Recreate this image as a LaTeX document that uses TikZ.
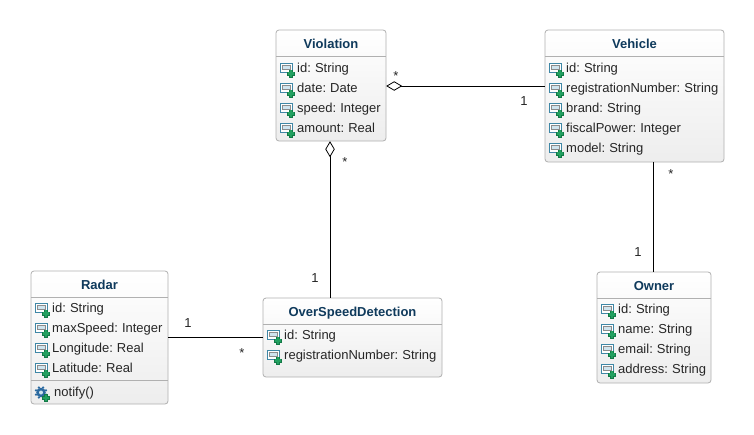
\documentclass[tikz,border=0pt]{standalone}
\usepackage{fontspec}
\setmainfont[WordSpace=0.8]{Liberation Sans}
\usetikzlibrary{arrows.meta}
\definecolor{titleblue}{HTML}{0F3A5C}
\definecolor{boxline}{HTML}{B0B0B0}
\definecolor{iconblue}{HTML}{3F87A6}
\definecolor{gearblue}{HTML}{2C6AA0}
\definecolor{iconfill}{HTML}{CFE4EE}
\definecolor{plusgreen}{HTML}{22A060}
\definecolor{plusdark}{HTML}{137A47}
\tikzset{
  classbox/.style={draw=boxline,line width=0.8pt,rounded corners=3pt,top color=white,bottom color=black!7,minimum width=#1,inner sep=0pt},
  titletext/.style={font=\fontsize{13}{15}\selectfont\bfseries,text=titleblue,inner sep=0pt,anchor=base},
  membertext/.style={font=\fontsize{13}{15}\selectfont,text=black!85,inner sep=0pt,anchor=base west},
  multtext/.style={font=\fontsize{13}{15}\selectfont,text=black!85,inner sep=0pt},
  sepline/.style={draw=boxline,line width=0.7pt},
  assoc/.style={draw=black,line width=0.8pt},
  aggr/.style={assoc,{Diamond[open,fill=white,length=16pt,width=9.5pt,line width=0.8pt]}-},
  plusmark/.pic={
    \fill[plusdark] (-2,-4) rectangle (2,4);
    \fill[plusdark] (-4,-2) rectangle (4,2);
    \fill[plusgreen] (-1.2,-3.2) rectangle (1.2,3.2);
    \fill[plusgreen] (-3.2,-1.2) rectangle (3.2,1.2);
  },
  attricon/.pic={
    \draw[iconblue,line width=1pt,fill=white] (-6,-4.5) rectangle (6,4.5);
    \draw[black!45,line width=0.6pt,fill=iconfill] (-3.8,-2.2) rectangle (3.8,1.8);
    \pic at (5,6) {plusmark};
  },
  opicon/.pic={
    \fill[gearblue] (0,-0.5) circle (4.8);
    \foreach \a in {0,45,...,315}{\fill[gearblue] ([shift={(0,-0.5)}]\a+22:5.4) circle (1.25);}
    \fill[iconfill] (0,-0.5) circle (2);
    \pic at (5,5) {plusmark};
  }
}
% box: name, left, top, right, bottom, header bottom, title
\newcommand{\umlbox}[7]{%
  \path[classbox=0pt] (#2,#3) rectangle (#4,#5);
  \node[minimum width=#4pt-#2pt,minimum height=#5pt-#3pt,inner sep=0pt,draw=none] (#1) at ({(#2+#4)/2},{(#3+#5)/2}) {};
  \draw[sepline] (#2,#6) -- (#4,#6);
  \node[titletext] (#1title) at ({(#2+#4)/2},#6-8) {#7};
}
% member: node name, icon x, baseline y, text
\newcommand{\umlattr}[4]{%
  \pic at (#2,#3-4.5) {attricon};
  \node[membertext] (#1) at (#2+11,#3) {#4};
}
\begin{document}
\begin{tikzpicture}[x=1pt,y=-1pt]
\useasboundingbox (0,0) rectangle (754,434);
\fill[white] (0,0) rectangle (754,434);

\umlbox{viol}{276}{30}{386}{141}{56}{Violation}
\umlattr{va}{286}{72}{id: String}
\umlattr{vb}{286}{92}{date: Date}
\umlattr{vc}{286}{112}{speed: Integer}
\umlattr{vd}{286}{132}{amount: Real}

\umlbox{veh}{545}{30}{724}{162}{56}{Vehicle}
\umlattr{ca}{555}{72}{id: String}
\umlattr{cb}{555}{92}{registrationNumber: String}
\umlattr{cc}{555}{112}{brand: String}
\umlattr{cd}{555}{132}{fiscalPower: Integer}
\umlattr{ce}{555}{152}{model: String}

\umlbox{own}{597}{272}{711}{383}{298}{Owner}
\umlattr{oa}{607}{313}{id: String}
\umlattr{ob}{607}{333}{name: String}
\umlattr{oc}{607}{353}{email: String}
\umlattr{od}{607}{373}{address: String}

\umlbox{osd}{263}{298}{442}{377}{324}{OverSpeedDetection}
\umlattr{sa}{273}{339}{id: String}
\umlattr{sb}{273}{359}{registrationNumber: String}

\umlbox{rad}{31}{271}{168}{404}{297}{Radar}
\umlattr{ra}{41}{312}{id: String}
\umlattr{rb}{41}{332}{maxSpeed: Integer}
\umlattr{rc}{41}{352}{Longitude: Real}
\umlattr{rd}{41}{372}{Latitude: Real}
\draw[sepline] (31,380.5) -- (168,380.5);
\pic at (41,393) {opicon};
\node[membertext] (re) at (54,396) {notify()};

\draw[aggr] (viol.east |- 0,86) -- (veh.west |- 0,86);
\draw[aggr] (viol.south -| 330,0) -- (osd.north -| 330,0);
\draw[assoc] (veh.south -| 653,0) -- (own.north -| 653,0);
\draw[assoc] (rad.east |- 0,337) -- (osd.west |- 0,337);

\node[multtext] (m1) at (396,76) {*};
\node[multtext] (m2) at (524,101) {1};
\node[multtext] (m3) at (345,162) {*};
\node[multtext] (m4) at (315,278) {1};
\node[multtext] (m5) at (671,174) {*};
\node[multtext] (m6) at (638,252) {1};
\node[multtext] (m7) at (188,323) {1};
\node[multtext] (m8) at (242,353) {*};
\end{tikzpicture}
\end{document}
